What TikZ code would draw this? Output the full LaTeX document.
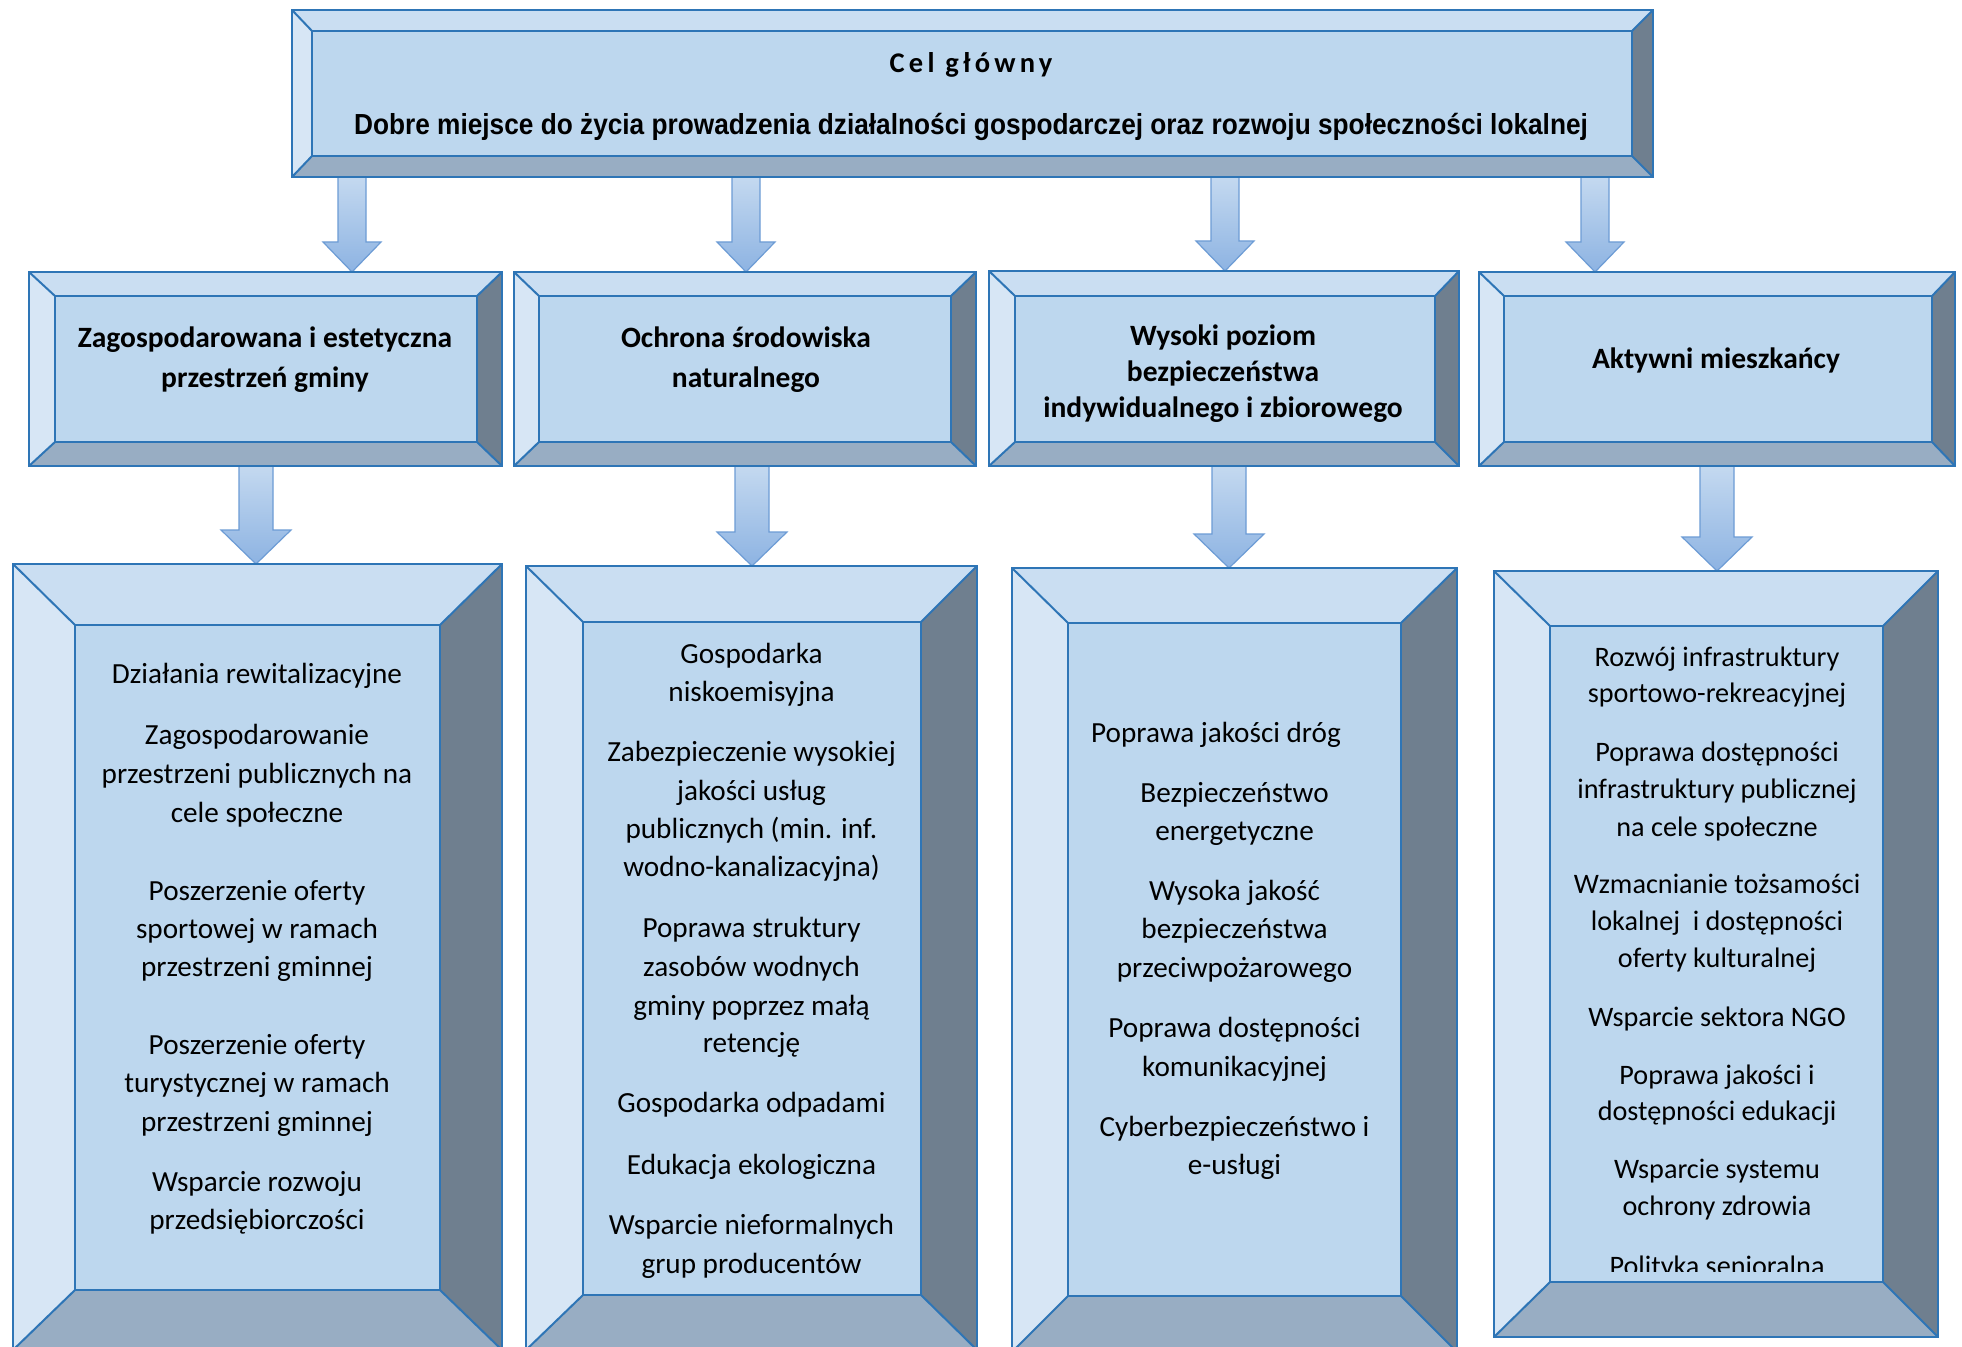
\documentclass[tikz,border=0pt]{standalone}
\usepackage{fontspec}
\setmainfont{Carlito}
\newfontfamily\narrowfont[FakeStretch=0.905]{Liberation Sans}
\usetikzlibrary{fit,calc}
\definecolor{facecol}{HTML}{BDD7EE}
\definecolor{bevtop}{HTML}{CADEF2}
\definecolor{bevleft}{HTML}{D7E6F5}
\definecolor{bevright}{HTML}{6F7F8F}
\definecolor{bevbot}{HTML}{98ADC3}
\definecolor{edgecol}{HTML}{2E75B6}
\definecolor{arrtop}{HTML}{C4D9F0}
\definecolor{arrbot}{HTML}{8DB3E2}
\definecolor{arredge}{HTML}{6D9CD5}

% define outer and inner frame nodes of a bevelled box
\newcommand\boxpair[9]{%
  \path (#2,#3) coordinate (#1-p) (#4,#5) coordinate (#1-q)
        (#6,#7) coordinate (#1-r) (#8,#9) coordinate (#1-s);
  \node[framenode, fit=(#1-p)(#1-q)] (#1) {};
  \node[framenode, fit=(#1-r)(#1-s)] (#1i) {};
}
% paint a bevelled box from its two frame nodes
\newcommand\paintbevel[1]{%
  \fill[bevtop] (#1.north west) -- (#1.north east) -- (#1i.north east) -- (#1i.north west) -- cycle;
  \fill[bevleft] (#1.north west) -- (#1i.north west) -- (#1i.south west) -- (#1.south west) -- cycle;
  \fill[bevright] (#1.north east) -- (#1.south east) -- (#1i.south east) -- (#1i.north east) -- cycle;
  \fill[bevbot] (#1.south west) -- (#1i.south west) -- (#1i.south east) -- (#1.south east) -- cycle;
  \fill[facecol] (#1i.north west) rectangle (#1i.south east);
  \draw[innerline] (#1i.north west) rectangle (#1i.south east);
  \draw[innerline] (#1.north west) -- (#1i.north west)
                   (#1.north east) -- (#1i.north east)
                   (#1.south west) -- (#1i.south west)
                   (#1.south east) -- (#1i.south east);
  \draw[outerline] (#1.north west) rectangle (#1.south east);
}
% block arrow from node #1 to node #2 along the x of coordinate #3
\newcommand\blockarrow[6]{%
  \path[arrowshape] let \p1=(#3 |- #1.south), \p2=(#3 |- #2.north) in
    (\x1-#4,\y1) -- (\x1+#4,\y1) -- (\x1+#4,\y2+#6) -- (\x1+#5,\y2+#6)
    -- (\x2,\y2) -- (\x1-#5,\y2+#6) -- (\x1-#4,\y2+#6) -- cycle;
}

\begin{document}
\begin{tikzpicture}[x=0.5pt,y=-0.5pt,
  framenode/.style={inner sep=0pt, outer sep=0pt, draw=none},
  innerline/.style={draw=edgecol, line width=1pt},
  outerline/.style={draw=edgecol, line width=1.4pt},
  arrowshape/.style={top color=arrtop, bottom color=arrbot, draw=arredge, line width=0.6pt},
  linetxt/.style={inner sep=0pt, outer sep=0pt, text height=0.57em, text depth=0.13em, anchor=center, yshift=-3pt},
  toptxt/.style={linetxt, font=\fontsize{14.25pt}{16pt}\selectfont\bfseries},
  topmaintxt/.style={linetxt, font=\fontsize{14.5pt}{16pt}\narrowfont\bfseries},
  headtxt/.style={linetxt, font=\fontsize{14.75pt}{17pt}\selectfont\bfseries},
  bodytxt/.style={linetxt, font=\fontsize{14.6pt}{17pt}\selectfont},
  bodytxtsm/.style={linetxt, font=\fontsize{14.1pt}{16pt}\selectfont}
]
\useasboundingbox (0,0) rectangle (1962,1347);
\fill[white] (0,0) rectangle (1962,1347);
\clip (0,0) rectangle (1962,1347);

% frames
\boxpair{top}{292}{10}{1653}{177}{312}{31}{1632}{156}
\boxpair{ba}{29}{272}{502}{466}{55}{296}{477}{442}
\boxpair{bb}{514}{272}{976}{466}{539}{296}{951}{442}
\boxpair{bc}{989}{271}{1459}{466}{1015}{296}{1435}{442}
\boxpair{bd}{1479}{272}{1955}{466}{1504}{296}{1932}{442}
\boxpair{ca}{13}{564}{502}{1350}{75}{625}{440}{1290}
\boxpair{cb}{526}{566}{977}{1350}{583}{622}{921}{1295}
\boxpair{cc}{1012}{568}{1457}{1352}{1068}{623}{1401}{1296}
\boxpair{cd}{1494}{571}{1938}{1337}{1550}{626}{1883}{1282}

% arrow axes
\coordinate (xa) at (352,0);
\coordinate (xb) at (746,0);
\coordinate (xc) at (1225,0);
\coordinate (xd) at (1595,0);
\coordinate (ya) at (256,0);
\coordinate (yb) at (752,0);
\coordinate (yc) at (1229,0);
\coordinate (yd) at (1717,0);

% arrows
\blockarrow{top}{ba}{xa}{7pt}{14.5pt}{15pt}
\blockarrow{top}{bb}{xb}{7pt}{14.5pt}{15pt}
\blockarrow{top}{bc}{xc}{7pt}{14.5pt}{15pt}
\blockarrow{top}{bd}{xd}{7pt}{14.5pt}{15pt}
\blockarrow{ba}{ca}{ya}{8.5pt}{17.5pt}{17pt}
\blockarrow{bb}{cb}{yb}{8.5pt}{17.5pt}{17pt}
\blockarrow{bc}{cc}{yc}{8.5pt}{17.5pt}{17pt}
\blockarrow{bd}{cd}{yd}{8.5pt}{17.5pt}{17pt}

% boxes
\paintbevel{top}
\paintbevel{ba}
\paintbevel{bb}
\paintbevel{bc}
\paintbevel{bd}
\paintbevel{ca}
\paintbevel{cb}
\paintbevel{cc}
\paintbevel{cd}

% top texts
\node[toptxt] (celg) at (971,62) {\addfontfeature{LetterSpace=15}Cel główny};
\node[topmaintxt] (celm) at (971,124) {Dobre miejsce do życia prowadzenia działalności gospodarczej oraz rozwoju społeczności lokalnej};

% level-2 titles
\node[headtxt] (ha1) at (265,337) {Zagospodarowana i estetyczna};
\node[headtxt] (ha2) at (265,377) {przestrzeń gminy};
\node[headtxt] (hb1) at (746,337) {Ochrona środowiska};
\node[headtxt] (hb2) at (746,377) {naturalnego};
\node[headtxt] (hc1) at (1223,335) {Wysoki poziom};
\node[headtxt] (hc2) at (1223,371) {bezpieczeństwa};
\node[headtxt] (hc3) at (1223,407) {indywidualnego i zbiorowego};
\node[headtxt] (hd1) at (1716,358) {Aktywni mieszkańcy};

% body texts
\foreach \yy/\lbl [count=\i] in {673/{Działania rewitalizacyjne},
  734/{Zagospodarowanie}, 773/{przestrzeni publicznych na}, 812/{cele społeczne},
  890/{Poszerzenie oferty}, 928/{sportowej w ramach}, 966/{przestrzeni gminnej},
  1044/{Poszerzenie oferty}, 1082/{turystycznej w ramach}, 1121/{przestrzeni gminnej},
  1181/{Wsparcie rozwoju}, 1219/{przedsiębiorczości}}
  \node[bodytxt] (ta\i) at (257,\yy) {\lbl};

\foreach \yy/\lbl [count=\i] in {653/{Gospodarka}, 691/{niskoemisyjna},
  751/{Zabezpieczenie wysokiej}, 790/{jakości usług}, 828/{publicznych (min. inf.}, 866/{wodno-kanalizacyjna)},
  927/{Poprawa struktury}, 966/{zasobów wodnych}, 1005/{gminy poprzez małą}, 1042/{retencję},
  1102/{Gospodarka odpadami},
  1164/{Edukacja ekologiczna},
  1224/{Wsparcie nieformalnych}, 1263/{grup producentów}}
  \node[bodytxt] (tb\i) at (751.5,\yy) {\lbl};

\node[bodytxt] (tc0) at (1216,732) {Poprawa jakości dróg};
\foreach \yy/\lbl [count=\i] in {792/{Bezpieczeństwo}, 830/{energetyczne},
  890/{Wysoka jakość}, 928/{bezpieczeństwa}, 967/{przeciwpożarowego},
  1027/{Poprawa dostępności}, 1066/{komunikacyjnej},
  1126/{Cyberbezpieczeństwo i}, 1164/{e-usługi}}
  \node[bodytxt] (tc\i) at (1234.5,\yy) {\lbl};

\begin{scope}
\clip (cdi.north west) rectangle ($(cdi.south east)+(0,-11)$);
\foreach \yy/\lbl [count=\i] in {656/{Rozwój infrastruktury}, 692/{sportowo-rekreacyjnej},
  751/{Poprawa dostępności}, 788/{infrastruktury publicznej}, 826/{na cele społeczne},
  883/{Wzmacnianie tożsamości}, 920/{lokalnej~ i dostępności}, 957/{oferty kulturalnej},
  1016/{Wsparcie sektora NGO},
  1074/{Poprawa jakości i}, 1110/{dostępności edukacji},
  1168/{Wsparcie systemu}, 1205/{ochrony zdrowia},
  1265/{Polityka senioralna}}
  \node[bodytxtsm] (td\i) at (1717,\yy) {\lbl};
\end{scope}
\end{tikzpicture}
\end{document}
